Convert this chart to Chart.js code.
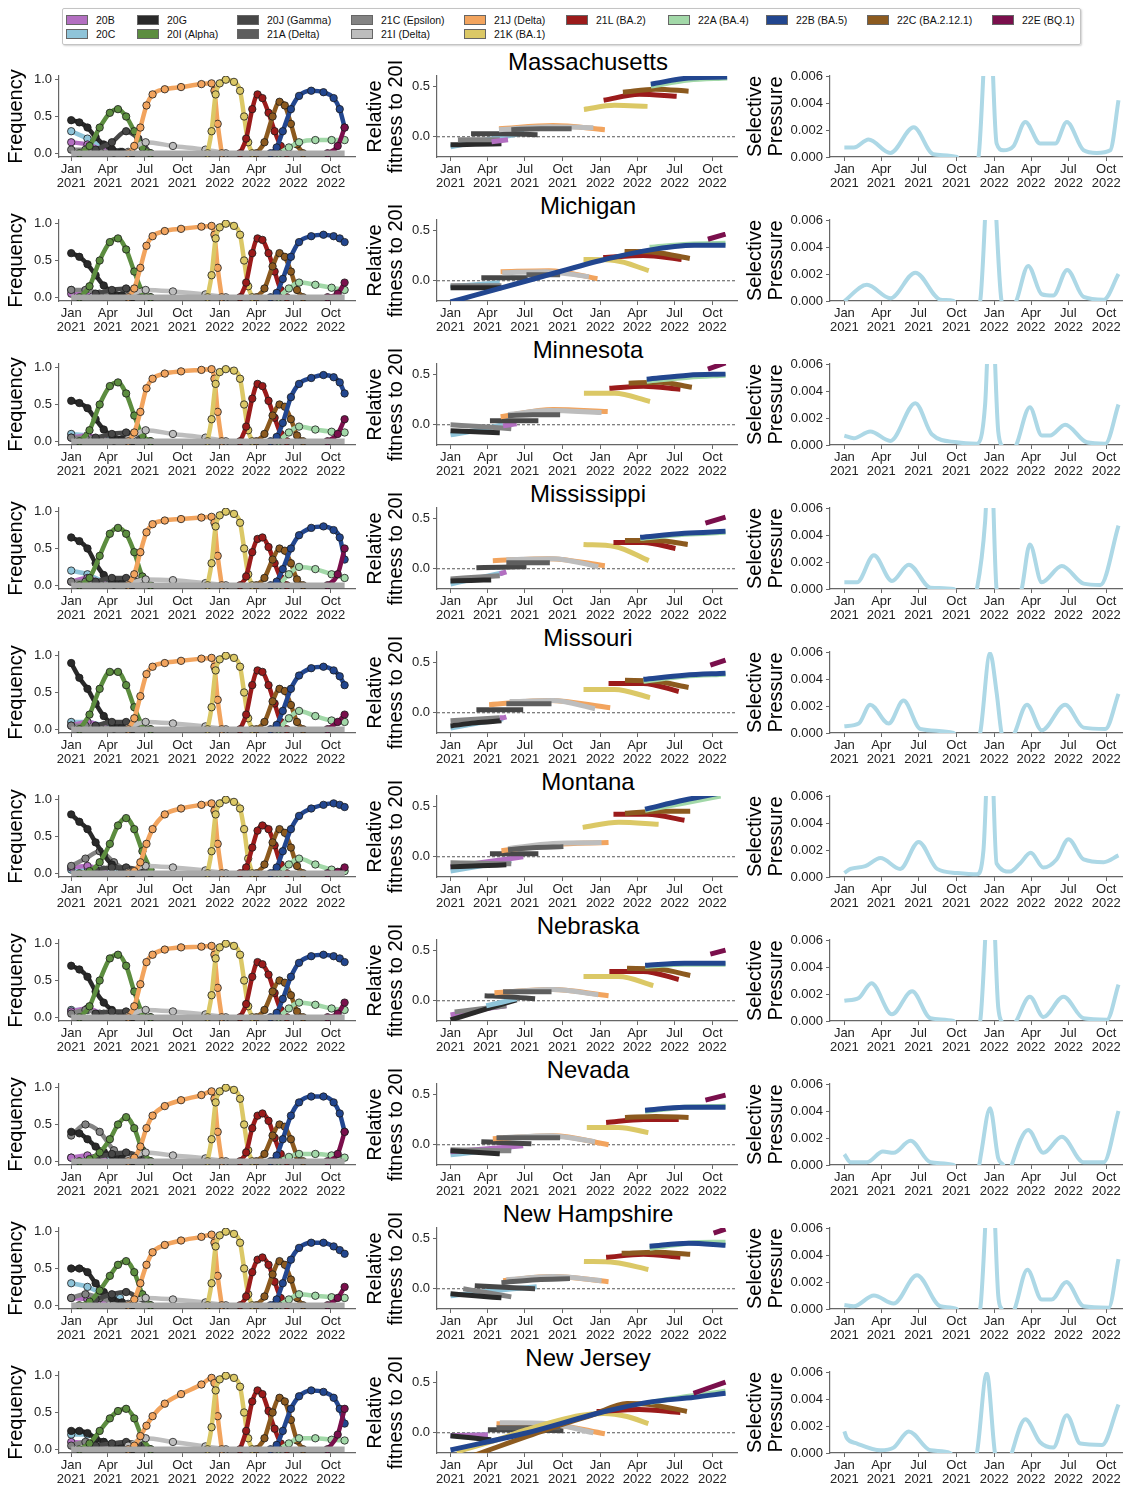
<!DOCTYPE html>
<html>
<head>
<meta charset="utf-8">
<script src="https://cdn.jsdelivr.net/npm/chart.js@4.4.0/dist/chart.umd.min.js"></script>
<style>
  body { margin: 0; background: #fff; width: 1123px; height: 1487px; position: relative; overflow: hidden;
         font-family: "Liberation Sans", Arial, sans-serif; }
  canvas { position: absolute; }
  .title { position: absolute; left: 398px; width: 380px; text-align: center; font-size: 24px; line-height: 28px; color: #000; }
  #legend { position: absolute; left: 62px; top: 8px; width: 1017px; height: 35px; border: 1px solid #c4c4c4;
            border-radius: 2px; box-shadow: 1px 1px 2px #d0d0d0; }
  .li { position: absolute; font-size: 10.5px; height: 12px; line-height: 12px; display: flex; align-items: center; color: #111; white-space: nowrap; }
  .sw { width: 20px; height: 8px; border: 1px solid #666; margin-right: 8px; }
</style>
</head>
<body>
<div id="legend"></div>
<script>
// ---- axes ----
const states = ['Massachusetts', 'Michigan', 'Minnesota', 'Mississippi', 'Missouri',
                'Montana', 'Nebraska', 'Nevada', 'New Hampshire', 'New Jersey'];
// days since 1 Jan 2021
const monthTicks = [0, 90, 181, 273, 365, 455, 546, 638];
const monthLabels = [['Jan', '2021'], ['Apr', '2021'], ['Jul', '2021'], ['Oct', '2021'],
                     ['Jan', '2022'], ['Apr', '2022'], ['Jul', '2022'], ['Oct', '2022']];
const freqTicks = [0, 0.5, 1];
const fitTicks = [0, 0.5];
const pressTicks = [0, 0.002, 0.004, 0.006];

// ---- legend ----
const legendCodes = ['20B', '20C', '20G', '20I', '20J', '21A', '21C', '21I', '21J', '21K', '21L', '22A', '22B', '22C', '22E'];
const legendLabels = ['20B', '20C', '20G', '20I (Alpha)', '20J (Gamma)', '21A (Delta)', '21C (Epsilon)', '21I (Delta)',
                      '21J (Delta)', '21K (BA.1)', '21L (BA.2)', '22A (BA.4)', '22B (BA.5)', '22C (BA.2.12.1)', '22E (BQ.1)'];

const palette = {
  '20B': '#b36fc1', '20C': '#8fc4d9', '20G': '#2a2a2a', '20I': '#5c8d3f', '20J': '#474747',
  '21A': '#5e5e5e', '21C': '#838383', '21I': '#bdbdbd', '21J': '#f2a45e', '21K': '#dbc866',
  '21L': '#9b1b1b', '22A': '#a2d8a8', '22B': '#22468f', '22C': '#8c5a1f', '22E': '#7a0f4c'
};

// ---- frequency curves (rows: states in order above) ----
const days20C = [0, 40, 80, 120];
const freq20C = [[0.3, 0.2, 0.08, 0.02], [0.1, 0.08, 0.04, 0.02], [0.1, 0.08, 0.04, 0.02], [0.2, 0.15, 0.05, 0.02],
  [0.1, 0.1, 0.05, 0.02], [0.05, 0.08, 0.05, 0.02], [0.1, 0.1, 0.05, 0.02], [0.05, 0.05, 0.03, 0.02],
  [0.3, 0.25, 0.15, 0.1], [0.2, 0.2, 0.1, 0.05]];

const days20B = [0, 40, 80];
const freq20B = [[0.15, 0.12, 0.04], [0.05, 0.08, 0.02], [0.05, 0.08, 0.02], [0.05, 0.1, 0.02], [0.05, 0.1, 0.03],
  [0.08, 0.1, 0.03], [0.08, 0.12, 0.03], [0.05, 0.08, 0.02], [0.1, 0.08, 0.02], [0.1, 0.08, 0.02]];

const days21C = [0, 35, 70, 105, 140];
const freq21C = [[0.05, 0.05, 0.03, 0.01, 0], [0.1, 0.1, 0.05, 0.02, 0], [0.05, 0.05, 0.03, 0.01, 0],
  [0.05, 0.05, 0.03, 0.01, 0], [0.05, 0.05, 0.03, 0.01, 0], [0.1, 0.2, 0.3, 0.15, 0.02], [0.05, 0.1, 0.05, 0.02, 0],
  [0.35, 0.5, 0.4, 0.15, 0.03], [0.1, 0.15, 0.1, 0.05, 0], [0.05, 0.1, 0.08, 0.05, 0]];

const days20G = [0, 20, 40, 60, 80, 100, 125, 150];
const freq20G = [[0.45, 0.42, 0.35, 0.22, 0.12, 0.06, 0.02, 0], [0.6, 0.55, 0.45, 0.3, 0.16, 0.08, 0.03, 0],
  [0.55, 0.52, 0.45, 0.3, 0.16, 0.08, 0.03, 0], [0.65, 0.6, 0.5, 0.3, 0.14, 0.06, 0.03, 0],
  [0.9, 0.7, 0.55, 0.35, 0.18, 0.08, 0.03, 0], [0.8, 0.7, 0.6, 0.42, 0.25, 0.12, 0.05, 0],
  [0.7, 0.65, 0.55, 0.35, 0.2, 0.1, 0.04, 0], [0.4, 0.38, 0.3, 0.2, 0.13, 0.08, 0.04, 0],
  [0.5, 0.5, 0.45, 0.3, 0.18, 0.1, 0.04, 0], [0.25, 0.25, 0.22, 0.15, 0.1, 0.06, 0.03, 0]];

const days20J = [60, 100, 135, 165, 195];
const freq20J = [[0.05, 0.15, 0.3, 0.2, 0], [0.05, 0.1, 0.12, 0.05, 0], [0.05, 0.1, 0.12, 0.08, 0], [0.05, 0.1, 0.1, 0.05, 0],
  [0.05, 0.1, 0.1, 0.05, 0], [0.05, 0.08, 0.08, 0.05, 0], [0.05, 0.08, 0.08, 0.05, 0], [0.05, 0.1, 0.12, 0.08, 0],
  [0.08, 0.15, 0.18, 0.1, 0], [0.05, 0.08, 0.1, 0.08, 0]];

const days20I = [20, 45, 70, 95, 115, 135, 155, 175, 195];
const freq20I = [[0, 0.1, 0.35, 0.55, 0.6, 0.5, 0.3, 0.08, 0], [0, 0.15, 0.5, 0.75, 0.8, 0.65, 0.35, 0.08, 0],
  [0, 0.15, 0.5, 0.75, 0.8, 0.65, 0.35, 0.08, 0], [0, 0.1, 0.4, 0.7, 0.78, 0.7, 0.45, 0.12, 0],
  [0, 0.2, 0.55, 0.78, 0.78, 0.6, 0.3, 0.06, 0], [0, 0.03, 0.15, 0.4, 0.65, 0.75, 0.6, 0.3, 0.05],
  [0, 0.15, 0.5, 0.8, 0.85, 0.7, 0.35, 0.06, 0], [0, 0.03, 0.12, 0.3, 0.5, 0.6, 0.45, 0.15, 0],
  [0, 0.05, 0.2, 0.4, 0.55, 0.6, 0.45, 0.15, 0], [0, 0.08, 0.25, 0.42, 0.52, 0.55, 0.42, 0.15, 0]];

const days21I = [140, 183, 250, 330, 380];
const freq21I = [[0.02, 0.15, 0.1, 0.05, 0], [0.02, 0.1, 0.08, 0.04, 0], [0.03, 0.15, 0.1, 0.05, 0], [0.02, 0.08, 0.07, 0.03, 0],
  [0.02, 0.1, 0.08, 0.04, 0], [0.02, 0.1, 0.08, 0.04, 0], [0.02, 0.1, 0.08, 0.04, 0], [0.03, 0.12, 0.08, 0.04, 0],
  [0.02, 0.1, 0.08, 0.04, 0], [0.05, 0.15, 0.1, 0.04, 0]];

const days21J = [140, 155, 170, 185, 200, 230, 270, 320, 345, 352, 360, 370];
const freq21J = [[0, 0.1, 0.35, 0.65, 0.8, 0.87, 0.9, 0.94, 0.95, 0.85, 0.4, 0],
  [0, 0.12, 0.4, 0.7, 0.83, 0.9, 0.93, 0.96, 0.97, 0.85, 0.4, 0],
  [0, 0.12, 0.4, 0.72, 0.85, 0.92, 0.95, 0.97, 0.98, 0.85, 0.4, 0],
  [0, 0.15, 0.45, 0.72, 0.83, 0.88, 0.9, 0.92, 0.93, 0.85, 0.4, 0],
  [0, 0.15, 0.45, 0.75, 0.85, 0.9, 0.93, 0.96, 0.97, 0.85, 0.4, 0],
  [0, 0.03, 0.15, 0.4, 0.6, 0.8, 0.88, 0.93, 0.95, 0.85, 0.4, 0],
  [0, 0.15, 0.45, 0.75, 0.85, 0.92, 0.95, 0.96, 0.97, 0.85, 0.4, 0],
  [0, 0.05, 0.2, 0.45, 0.62, 0.75, 0.83, 0.9, 0.95, 0.85, 0.4, 0],
  [0, 0.08, 0.3, 0.55, 0.72, 0.82, 0.88, 0.93, 0.96, 0.85, 0.4, 0],
  [0, 0.05, 0.18, 0.32, 0.45, 0.62, 0.75, 0.88, 0.97, 0.9, 0.45, 0]];

const days21K = [335, 345, 355, 365, 380, 400, 415, 425, 435, 445];
const freq21K = [[0, 0.3, 0.8, 0.95, 1.0, 0.97, 0.85, 0.5, 0.15, 0], [0, 0.3, 0.8, 0.95, 1.0, 0.97, 0.85, 0.5, 0.15, 0],
  [0, 0.3, 0.78, 0.94, 0.98, 0.96, 0.85, 0.5, 0.15, 0], [0, 0.3, 0.8, 0.95, 1.0, 0.97, 0.85, 0.5, 0.15, 0],
  [0, 0.3, 0.8, 0.95, 1.0, 0.97, 0.85, 0.5, 0.15, 0], [0, 0.3, 0.8, 0.95, 1.0, 0.97, 0.88, 0.6, 0.2, 0],
  [0, 0.3, 0.8, 0.95, 1.0, 0.97, 0.85, 0.5, 0.15, 0], [0, 0.3, 0.8, 0.95, 1.0, 0.97, 0.85, 0.5, 0.15, 0],
  [0, 0.3, 0.8, 0.95, 1.0, 0.97, 0.85, 0.5, 0.15, 0], [0, 0.3, 0.8, 0.95, 1.0, 0.97, 0.85, 0.5, 0.15, 0]];

const days21L = [415, 430, 445, 458, 470, 485, 500, 515, 530];
const freq21L = [[0, 0.2, 0.6, 0.8, 0.75, 0.55, 0.3, 0.1, 0], [0, 0.2, 0.6, 0.8, 0.78, 0.6, 0.35, 0.1, 0],
  [0, 0.2, 0.58, 0.78, 0.75, 0.55, 0.32, 0.1, 0], [0, 0.12, 0.45, 0.63, 0.65, 0.52, 0.3, 0.1, 0],
  [0, 0.2, 0.6, 0.8, 0.78, 0.6, 0.35, 0.1, 0], [0, 0.08, 0.35, 0.58, 0.65, 0.6, 0.38, 0.12, 0],
  [0, 0.18, 0.55, 0.75, 0.72, 0.58, 0.33, 0.1, 0], [0, 0.12, 0.45, 0.62, 0.65, 0.55, 0.32, 0.1, 0],
  [0, 0.12, 0.45, 0.62, 0.65, 0.55, 0.32, 0.1, 0], [0, 0.25, 0.65, 0.8, 0.75, 0.52, 0.28, 0.08, 0]];

const days22C = [455, 475, 495, 512, 525, 540, 555, 570];
const freq22C = [[0, 0.15, 0.5, 0.7, 0.65, 0.4, 0.12, 0], [0, 0.12, 0.42, 0.6, 0.55, 0.35, 0.1, 0],
  [0, 0.1, 0.35, 0.5, 0.47, 0.3, 0.08, 0], [0, 0.1, 0.35, 0.5, 0.47, 0.3, 0.08, 0],
  [0, 0.1, 0.38, 0.55, 0.52, 0.33, 0.1, 0], [0, 0.12, 0.42, 0.6, 0.55, 0.35, 0.1, 0],
  [0, 0.1, 0.35, 0.5, 0.47, 0.3, 0.08, 0], [0, 0.1, 0.35, 0.5, 0.47, 0.3, 0.08, 0],
  [0, 0.12, 0.42, 0.6, 0.55, 0.35, 0.1, 0], [0, 0.15, 0.5, 0.7, 0.65, 0.4, 0.12, 0]];

const days22B = [490, 505, 520, 540, 560, 590, 620, 645, 660, 672];
const freq22B = [[0, 0.08, 0.3, 0.6, 0.78, 0.85, 0.83, 0.75, 0.6, 0.35],
  [0, 0.06, 0.25, 0.55, 0.75, 0.83, 0.85, 0.83, 0.8, 0.75],
  [0, 0.06, 0.25, 0.6, 0.78, 0.86, 0.9, 0.87, 0.8, 0.65],
  [0, 0.05, 0.22, 0.5, 0.68, 0.78, 0.8, 0.75, 0.65, 0.35],
  [0, 0.06, 0.25, 0.55, 0.73, 0.83, 0.85, 0.8, 0.72, 0.6],
  [0, 0.08, 0.3, 0.6, 0.78, 0.88, 0.93, 0.95, 0.93, 0.9],
  [0, 0.06, 0.25, 0.55, 0.74, 0.83, 0.85, 0.83, 0.8, 0.75],
  [0, 0.08, 0.3, 0.62, 0.8, 0.88, 0.88, 0.8, 0.65, 0.4],
  [0, 0.08, 0.3, 0.62, 0.78, 0.85, 0.85, 0.8, 0.75, 0.7],
  [0, 0.06, 0.25, 0.55, 0.72, 0.8, 0.78, 0.7, 0.55, 0.35]];

const days22A = [510, 535, 560, 600, 640, 672];
const freq22A = [[0, 0.08, 0.15, 0.18, 0.18, 0.18], [0, 0.12, 0.2, 0.17, 0.13, 0.1], [0, 0.12, 0.2, 0.16, 0.13, 0.12],
  [0, 0.15, 0.25, 0.22, 0.15, 0.1], [0, 0.15, 0.25, 0.18, 0.12, 0.1], [0, 0.12, 0.2, 0.12, 0.05, 0.03],
  [0, 0.12, 0.2, 0.17, 0.12, 0.1], [0, 0.06, 0.1, 0.1, 0.08, 0.05], [0, 0.08, 0.15, 0.13, 0.11, 0.1],
  [0, 0.08, 0.15, 0.15, 0.13, 0.12]];

const days22E = [630, 655, 672];
const freq22E = [[0, 0.1, 0.35], [0, 0.05, 0.2], [0, 0.1, 0.3], [0, 0.15, 0.5], [0, 0.1, 0.2],
  [0, 0.02, 0.08], [0, 0.05, 0.2], [0, 0.1, 0.4], [0, 0.1, 0.25], [0, 0.2, 0.55]];

// ---- relative fitness to 20I: [clade, days, values], listed bottom to top ----
const fitMA = [['20C', [0, 90, 180], [-0.1, -0.03, 0.04]], ['20G', [0, 60, 124], [-0.08, -0.075, -0.07]],
  ['21C', [18, 70, 120], [-0.03, -0.03, -0.03]], ['20B', [100, 120, 140], [-0.05, -0.04, -0.03]],
  ['20J', [50, 130, 212], [0.03, 0.03, 0.02]], ['21J', [118, 250, 376], [0.08, 0.11, 0.07]],
  ['21I', [118, 240, 348], [0.07, 0.1, 0.09]], ['21A', [148, 220, 295], [0.07, 0.08, 0.08]],
  ['21K', [325, 400, 480], [0.27, 0.31, 0.30]], ['21L', [373, 460, 551], [0.36, 0.42, 0.40]],
  ['22C', [420, 500, 580], [0.44, 0.47, 0.45]], ['22A', [488, 580, 674], [0.5, 0.56, 0.58]],
  ['22B', [488, 580, 674], [0.52, 0.58, 0.59]]];
const fitMI = [['20C', [0, 60, 120], [-0.06, -0.04, -0.02]], ['21C', [0, 60, 124], [-0.05, -0.05, -0.05]],
  ['20G', [0, 60, 124], [-0.07, -0.07, -0.07]], ['20J', [75, 130, 188], [0.03, 0.03, 0.03]],
  ['21J', [122, 240, 358], [0.09, 0.1, 0.02]], ['21I', [126, 230, 337], [0.08, 0.09, 0.04]],
  ['21A', [185, 230, 267], [0.06, 0.06, 0.06]], ['21K', [324, 400, 483], [0.21, 0.2, 0.1]],
  ['21L', [372, 470, 563], [0.23, 0.25, 0.21]], ['22C', [424, 500, 583], [0.29, 0.28, 0.22]],
  ['22A', [485, 580, 670], [0.33, 0.36, 0.37]],
  ['22B', [0, 187, 366, 480, 594, 670], [-0.21, 0.0, 0.2, 0.3, 0.35, 0.35]], ['22E', [627, 670], [0.41, 0.46]]];
const fitMN = [['20C', [0, 70, 128], [-0.1, -0.05, 0.0]], ['21C', [0, 80, 148], [0.0, -0.02, -0.04]],
  ['20G', [0, 60, 120], [-0.06, -0.07, -0.08]], ['20B', [128, 145, 161], [-0.01, 0.0, 0.01]],
  ['20J', [96, 150, 214], [0.04, 0.04, 0.04]], ['21J', [122, 250, 383], [0.08, 0.15, 0.13]],
  ['21I', [140, 240, 368], [0.1, 0.14, 0.12]], ['21A', [140, 200, 267], [0.09, 0.1, 0.1]],
  ['21K', [325, 400, 486], [0.31, 0.31, 0.23]], ['21L', [387, 470, 560], [0.36, 0.38, 0.35]],
  ['22C', [434, 510, 588], [0.41, 0.42, 0.37]], ['22A', [478, 580, 670], [0.43, 0.47, 0.49]],
  ['22B', [478, 580, 670], [0.45, 0.49, 0.5]], ['22E', [627, 670], [0.55, 0.61]]];
const fitMS = [['20C', [0, 70, 128], [-0.15, -0.09, -0.04]], ['21C', [0, 60, 120], [-0.1, -0.085, -0.07]],
  ['20G', [0, 50, 99], [-0.12, -0.115, -0.11]], ['20B', [120, 128, 136], [-0.05, -0.04, -0.03]],
  ['20J', [63, 125, 185], [0.01, 0.015, 0.02]], ['21J', [103, 240, 376], [0.08, 0.1, 0.03]],
  ['21I', [136, 250, 360], [0.09, 0.1, 0.02]], ['21A', [136, 190, 242], [0.06, 0.06, 0.06]],
  ['21K', [324, 400, 483], [0.24, 0.22, 0.08]], ['21L', [397, 470, 548], [0.26, 0.26, 0.2]],
  ['22C', [425, 500, 578], [0.28, 0.28, 0.24]], ['22A', [462, 570, 670], [0.3, 0.34, 0.36]],
  ['22B', [462, 570, 670], [0.31, 0.35, 0.37]], ['22E', [621, 670], [0.45, 0.51]]];
const fitMO = [['20C', [0, 70, 128], [-0.15, -0.1, -0.06]], ['21C', [0, 60, 120], [-0.08, -0.065, -0.05]],
  ['20G', [0, 60, 124], [-0.13, -0.1, -0.08]], ['20B', [120, 128, 136], [-0.05, -0.05, -0.04]],
  ['20J', [63, 120, 177], [0.03, 0.03, 0.03]], ['21J', [94, 240, 389], [0.08, 0.12, 0.05]],
  ['21I', [144, 250, 352], [0.11, 0.12, 0.04]], ['21A', [136, 190, 246], [0.09, 0.09, 0.09]],
  ['21K', [324, 400, 486], [0.23, 0.23, 0.15]], ['21L', [385, 470, 556], [0.29, 0.29, 0.21]],
  ['22C', [425, 500, 580], [0.32, 0.31, 0.25]], ['22A', [470, 570, 670], [0.31, 0.36, 0.38]],
  ['22B', [470, 570, 670], [0.33, 0.37, 0.39]], ['22E', [633, 670], [0.47, 0.52]]];
const fitMT = [['20C', [0, 75, 148], [-0.14, -0.09, -0.04]], ['20B', [0, 90, 177], [-0.1, -0.05, 0.0]],
  ['21C', [0, 75, 148], [-0.06, -0.065, -0.07]], ['20G', [0, 70, 136], [-0.1, -0.09, -0.08]],
  ['20J', [96, 150, 214], [0.03, 0.03, 0.03]], ['21J', [124, 250, 385], [0.06, 0.12, 0.14]],
  ['21I', [140, 250, 368], [0.08, 0.13, 0.14]], ['21A', [140, 200, 275], [0.07, 0.09, 0.1]],
  ['21K', [322, 410, 507], [0.29, 0.34, 0.32]], ['21L', [397, 480, 570], [0.42, 0.42, 0.36]],
  ['22C', [425, 510, 584], [0.43, 0.45, 0.45]], ['22A', [474, 570, 658], [0.46, 0.53, 0.6]],
  ['22B', [474, 570, 658], [0.47, 0.56, 0.63]]];
const fitNE = [['20B', [0, 70, 136], [-0.14, -0.09, -0.05]], ['21C', [10, 75, 136], [-0.11, -0.08, -0.05]],
  ['20G', [0, 80, 161], [-0.19, -0.09, 0.01]], ['20C', [87, 125, 161], [-0.05, -0.015, 0.02]],
  ['20J', [83, 140, 206], [0.05, 0.04, 0.02]], ['21J', [107, 250, 385], [0.08, 0.11, 0.05]],
  ['21I', [144, 250, 360], [0.09, 0.11, 0.06]], ['21A', [128, 190, 246], [0.09, 0.09, 0.09]],
  ['21K', [324, 410, 494], [0.24, 0.24, 0.15]], ['21L', [387, 470, 556], [0.29, 0.29, 0.21]],
  ['22C', [430, 510, 584], [0.32, 0.31, 0.25]], ['22A', [474, 570, 670], [0.34, 0.36, 0.36]],
  ['22B', [474, 570, 670], [0.35, 0.37, 0.37]], ['22E', [633, 670], [0.46, 0.5]]];
const fitNV = [['20C', [0, 75, 148], [-0.1, -0.065, -0.03]], ['20B', [0, 90, 177], [-0.07, -0.04, -0.01]],
  ['21C', [0, 75, 148], [-0.05, -0.055, -0.06]], ['20G', [0, 60, 120], [-0.06, -0.075, -0.09]],
  ['20J', [75, 135, 197], [0.03, 0.02, 0.01]], ['21J', [103, 250, 385], [0.06, 0.09, 0.0]],
  ['21I', [128, 240, 352], [0.07, 0.09, 0.03]], ['21A', [112, 190, 267], [0.07, 0.07, 0.07]],
  ['21K', [332, 410, 482], [0.17, 0.17, 0.12]], ['21L', [379, 470, 556], [0.22, 0.25, 0.25]],
  ['22C', [425, 500, 580], [0.27, 0.28, 0.27]], ['22A', [474, 570, 670], [0.33, 0.37, 0.38]],
  ['22B', [474, 570, 670], [0.34, 0.37, 0.37]], ['22E', [621, 670], [0.44, 0.49]]];
const fitNH = [['20C', [0, 105, 210], [-0.07, -0.02, 0.02]], ['21C', [31, 90, 148], [0.0, -0.04, -0.08]],
  ['20G', [0, 60, 124], [-0.05, -0.07, -0.09]], ['20J', [59, 130, 206], [0.03, 0.015, 0.0]],
  ['21J', [128, 250, 385], [0.08, 0.12, 0.07]], ['21I', [136, 250, 368], [0.09, 0.12, 0.08]],
  ['21A', [124, 210, 291], [0.06, 0.09, 0.1]], ['21K', [325, 400, 482], [0.27, 0.26, 0.19]],
  ['21L', [379, 470, 560], [0.31, 0.34, 0.31]], ['22C', [417, 500, 584], [0.35, 0.36, 0.34]],
  ['22A', [485, 580, 670], [0.4, 0.45, 0.46]], ['22B', [485, 580, 670], [0.42, 0.45, 0.43]],
  ['22E', [641, 670], [0.55, 0.59]]];
const fitNJ = [['20C', [0, 50, 91], [-0.03, -0.025, -0.02]], ['20B', [0, 50, 91], [-0.03, -0.025, -0.02]],
  ['20G', [0, 50, 99], [-0.03, -0.05, -0.07]], ['20J', [91, 180, 275], [0.03, 0.025, 0.02]],
  ['21J', [112, 250, 376], [0.09, 0.08, -0.01]], ['21I', [120, 240, 348], [0.1, 0.09, 0.0]],
  ['21A', [112, 190, 267], [0.05, 0.05, 0.05]],
  ['21K', [15, 120, 185, 316, 373, 430, 482], [-0.19, -0.06, 0.03, 0.17, 0.19, 0.16, 0.09]],
  ['21L', [356, 460, 560], [0.21, 0.23, 0.2]],
  ['22C', [59, 234, 348, 430, 486, 576], [-0.22, 0.03, 0.18, 0.29, 0.28, 0.21]],
  ['22A', [486, 580, 670], [0.3, 0.36, 0.41]],
  ['22B', [0, 187, 366, 480, 594, 670], [-0.17, 0.0, 0.2, 0.3, 0.35, 0.39]], ['22E', [592, 670], [0.39, 0.5]]];

// ---- selective pressure: [day, value] ----
const pressMA = [[0, 0.0007], [23, 0.0007], [59, 0.0013], [112, 0.0003], [169, 0.0022], [217, 0.0002], [274, 0.0],
  [300, -0.002], [327, 0.0], [352, 0.012], [371, 0.001], [387, 0.0005], [412, 0.0008], [441, 0.0026], [477, 0.001],
  [514, 0.001], [542, 0.0026], [583, 0.0005], [615, 0.0003], [648, 0.0005], [668, 0.0042]];
const pressMI = [[0, 0.0], [55, 0.0012], [112, 0.0002], [173, 0.0021], [234, 0.0001], [266, 0.0], [300, -0.002],
  [331, 0.0], [356, 0.012], [383, 0.0], [400, -0.001], [419, 0.0], [448, 0.0026], [481, 0.0005], [509, 0.0004],
  [543, 0.0023], [583, 0.0003], [632, 0.0001], [668, 0.002]];
const pressMN = [[0, 0.0007], [23, 0.0005], [63, 0.001], [112, 0.0003], [173, 0.0031], [213, 0.0008], [274, 0.0002],
  [323, 0.0001], [343, 0.003], [357, 0.012], [375, 0.001], [387, -0.0002], [400, -0.001], [419, 0.0], [452, 0.0028],
  [481, 0.0007], [501, 0.0007], [538, 0.0015], [591, 0.0002], [636, 0.0001], [668, 0.003]];
const pressMS = [[0, 0.0005], [31, 0.0005], [72, 0.0025], [116, 0.0006], [157, 0.0018], [210, 0.0001], [266, 0.0],
  [295, -0.002], [323, 0.0], [343, 0.005], [355, 0.012], [371, 0.0], [400, -0.002], [432, 0.0], [452, 0.0033],
  [481, 0.0005], [530, 0.0017], [583, 0.0004], [624, 0.0003], [668, 0.0047]];
const pressMO = [[0, 0.0005], [35, 0.0007], [63, 0.0021], [108, 0.0007], [144, 0.0024], [185, 0.0003], [266, 0.0],
  [300, -0.002], [331, 0.0], [355, 0.0059], [371, 0.003], [383, 0.0], [400, -0.001], [415, 0.0], [445, 0.0021],
  [481, 0.0002], [538, 0.0021], [583, 0.0004], [636, 0.0003], [668, 0.0029]];
const pressMT = [[0, 0.0003], [15, 0.0006], [51, 0.0008], [88, 0.0014], [136, 0.0006], [181, 0.0026], [226, 0.0006],
  [274, 0.0003], [323, 0.0002], [339, 0.002], [355, 0.012], [371, 0.001], [404, 0.0004], [428, 0.001], [454, 0.0018],
  [485, 0.0007], [517, 0.0013], [546, 0.0028], [583, 0.0013], [632, 0.0011], [668, 0.0016]];
const pressNE = [[0, 0.0015], [35, 0.0017], [66, 0.0028], [116, 0.0005], [165, 0.0022], [210, 0.0002], [266, 0.0],
  [300, -0.002], [331, 0.0], [357, 0.012], [375, 0.001], [387, -0.0002], [400, -0.001], [419, 0.0], [452, 0.0018],
  [485, 0.0003], [534, 0.0018], [583, 0.0002], [640, 0.0001], [668, 0.0027]];
const pressNV = [[0, 0.0008], [15, 0.0002], [55, 0.0002], [94, 0.001], [120, 0.0009], [161, 0.0018], [210, 0.0002],
  [266, 0.0], [300, -0.002], [328, -0.0001], [333, 0.0008], [355, 0.0042], [375, 0.0005], [387, 0.0], [400, -0.001],
  [408, 0.0], [448, 0.0026], [485, 0.0009], [530, 0.0021], [583, 0.0002], [632, 0.0002], [668, 0.004]];
const pressNH = [[0, 0.0003], [23, 0.0002], [72, 0.001], [120, 0.0004], [177, 0.0025], [234, 0.0002], [274, 0.0],
  [300, -0.002], [331, 0.0], [357, 0.012], [375, 0.001], [383, 0.0], [400, -0.001], [415, 0.0], [446, 0.0029],
  [481, 0.0007], [505, 0.0007], [541, 0.002], [583, 0.0002], [644, 0.0001], [668, 0.0037]];
const pressNJ = [[0, 0.0016], [6, 0.0011], [31, 0.0007], [88, 0.0002], [120, 0.0004], [157, 0.0016], [210, 0.0002],
  [258, 0.0], [290, -0.002], [323, 0.0], [347, 0.0059], [367, 0.0], [390, -0.002], [408, 0.0], [441, 0.0025],
  [477, 0.0008], [509, 0.0004], [542, 0.0028], [575, 0.0007], [628, 0.0006], [668, 0.0036]];

const fitness = [fitMA, fitMI, fitMN, fitMS, fitMO, fitMT, fitNE, fitNV, fitNH, fitNJ];
const pressure = [pressMA, pressMI, pressMN, pressMS, pressMO, pressMT, pressNE, pressNV, pressNH, pressNJ];
// bottom to top
const freqLayers = [
  ['20C', days20C, freq20C], ['20B', days20B, freq20B], ['21C', days21C, freq21C], ['20G', days20G, freq20G],
  ['20J', days20J, freq20J], ['20I', days20I, freq20I], ['21I', days21I, freq21I], ['21J', days21J, freq21J],
  ['21K', days21K, freq21K], ['21L', days21L, freq21L], ['22C', days22C, freq22C], ['22A', days22A, freq22A],
  ['22B', days22B, freq22B], ['22E', days22E, freq22E]
];

// ---------------------------------------------------------------
const FONT = '"Liberation Sans", Arial, sans-serif';
const AXIS = '#666';
const TOP = 45, ROW = 144;

// legend
const legendX = [66, 66, 137, 137, 237, 237, 351, 351, 464, 464, 566, 668, 766, 867, 992];
const legendRow = [0, 1, 0, 1, 0, 1, 0, 1, 0, 1, 0, 0, 0, 0, 0];
const legendEl = document.getElementById('legend');
legendCodes.forEach((code, i) => {
  const d = document.createElement('div');
  d.className = 'li';
  d.style.left = (legendX[i] - 63) + 'px';
  d.style.top = (legendRow[i] ? 19 : 5) + 'px';
  d.innerHTML = '<span class="sw" style="background:' + palette[code] + '"></span>' + legendLabels[i];
  legendEl.appendChild(d);
});

function xAxis(min, max) {
  return {
    type: 'linear', min: min, max: max,
    afterBuildTicks: s => { s.ticks = monthTicks.map(v => ({ value: v })); },
    afterFit: s => { s.height = 32; },
    ticks: { autoSkip: false, maxRotation: 0, padding: 1, color: '#222',
             font: { family: FONT, size: 13, lineHeight: 1.1 },
             callback: (v, i) => monthLabels[i] },
    grid: { drawOnChartArea: false, tickLength: 4, color: AXIS, lineWidth: 1 },
    border: { color: AXIS, width: 1.2 }
  };
}

function yAxis(min, max, ticks, digits, title, width, pad) {
  return {
    type: 'linear', min: min, max: max,
    afterBuildTicks: s => { s.ticks = ticks.map(v => ({ value: v })); },
    afterFit: s => { s.width = width; },
    ticks: { padding: 3, color: '#222', font: { family: FONT, size: 13 },
             callback: v => Number(v).toFixed(digits) },
    grid: { drawOnChartArea: false, tickLength: 4, color: AXIS, lineWidth: 1 },
    border: { color: AXIS, width: 1.2 },
    title: { display: true, text: title, color: '#000', padding: { top: pad, bottom: 0 },
             font: { family: FONT, size: 20, lineHeight: 1.05 } }
  };
}

function makeChart(left, top, w, h, padRight, datasets, scales) {
  const c = document.createElement('canvas');
  c.width = w; c.height = h;
  c.style.left = left + 'px'; c.style.top = top + 'px';
  document.body.appendChild(c);
  return new Chart(c.getContext('2d'), {
    type: 'line',
    data: { datasets: datasets },
    options: {
      responsive: false, animation: false, events: [],
      layout: { padding: { top: 31, right: padRight, left: 0, bottom: 0 } },
      plugins: { legend: { display: false }, tooltip: { enabled: false } },
      scales: scales
    }
  });
}

const pts = (days, vals) => days.map((d, i) => ({ x: d, y: vals[i] }));

states.forEach((name, s) => {
  const top = TOP + ROW * s;

  // title
  const t = document.createElement('div');
  t.className = 'title';
  t.style.top = (top + 3) + 'px';
  t.textContent = name;
  document.body.appendChild(t);

  // 1. frequency
  const freqSets = [{
    data: [{ x: 0, y: 0 }, { x: 672, y: 0 }], borderColor: '#a9a9a9', borderWidth: 5.5, pointRadius: 0
  }].concat(freqLayers.slice().reverse().map(([code, days, vals]) => ({
    data: pts(days, vals[s]),
    borderColor: palette[code], borderWidth: 4.5,
    pointRadius: 3.7, pointBackgroundColor: palette[code], pointBorderColor: '#1a1a1a', pointBorderWidth: 0.8,
    cubicInterpolationMode: 'monotone'
  })));
  makeChart(0, top, 360, ROW, 2, freqSets, {
    x: xAxis(-30, 698),
    y: yAxis(-0.05, 1.05, freqTicks, 1, 'Frequency', 59, 6)
  });

  // 2. relative fitness
  const fitSets = fitness[s].slice().reverse().map(([code, days, vals]) => ({
    data: pts(days, vals),
    borderColor: palette[code], borderWidth: 5, borderCapStyle: 'butt',
    pointRadius: 0, cubicInterpolationMode: 'monotone', clip: 0
  }));
  fitSets.push({
    data: [{ x: -33, y: 0 }, { x: 698, y: 0 }], borderColor: '#555', borderWidth: 1,
    borderDash: [3, 2], pointRadius: 0
  });
  makeChart(360, top, 380, ROW, 3, fitSets, {
    x: xAxis(-33, 698),
    y: yAxis(-0.2, 0.6, fitTicks, 1, ['Relative', 'fitness to 20I'], 77, 4.5)
  });

  // 3. selective pressure
  makeChart(740, top, 383, ROW, 0, [{
    data: pressure[s].map(([d, v]) => ({ x: d, y: v })),
    borderColor: '#add8e6', borderWidth: 4, pointRadius: 0,
    cubicInterpolationMode: 'monotone', clip: 0
  }], {
    x: xAxis(-35, 679),
    y: yAxis(0, 0.006, pressTicks, 3, ['Selective', 'Pressure'], 90, 4.5)
  });
});
</script>
</body>
</html>
